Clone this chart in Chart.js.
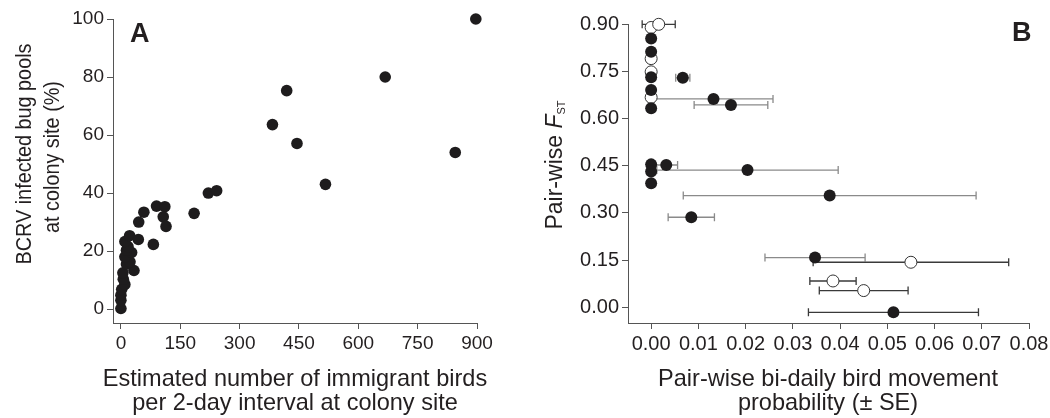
<!DOCTYPE html>
<html>
<head>
<meta charset="utf-8">
<script src="https://cdn.jsdelivr.net/npm/chart.js@4.4.1/dist/chart.umd.min.js"></script>
<style>
html,body{margin:0;padding:0;background:#fff;}
#wrap{position:relative;width:1050px;height:418px;overflow:hidden;background:#fff;}
.panel{position:absolute;top:0;width:525px;height:418px;}
#pa{left:0;} #pb{left:525px;}
</style>
</head>
<body>
<div id="wrap">
  <div class="panel" id="pa"><canvas id="ca"></canvas></div>
  <div class="panel" id="pb"><canvas id="cb"></canvas></div>
</div>
<script>
// ---------------- DATA ----------------
// Panel A: estimated immigrant birds per 2-day interval vs BCRV infected bug pools (%)
const immigrantBirds = [0, 0, 0, 2, 10, 6, 5, 33, 14, 23, 10, 27, 14, 18, 10, 22, 44, 82, 45, 58, 90, 111, 107, 114, 185, 221, 242, 383, 419, 445, 517, 668, 845, 897];
const infectedPools  = [0.2, 3, 4.8, 6.8, 8.5, 10.3, 12.5, 13.3, 15.5, 16.3, 18, 19.5, 20.3, 21.5, 23.3, 25.3, 24, 22.3, 30, 33.4, 35.5, 35.3, 31.8, 28.5, 33, 40, 40.8, 63.6, 75.3, 57.1, 43, 80, 54, 100];
const aXTicks = [0, 150, 300, 450, 600, 750, 900];
const aYTicks = [0, 20, 40, 60, 80, 100];

// Panel B: pair-wise bi-daily movement probability (± SE) vs pair-wise FST
const filledMove = [0, 0, 0, 0.0067, 0, 0.0132, 0.0169, 0, 0, 0.0032, 0.0204, 0, 0, 0.0378, 0.0085, 0.0347, 0.0513];
const filledFst  = [0.854, 0.812, 0.731, 0.729, 0.690, 0.662, 0.643, 0.632, 0.454, 0.452, 0.436, 0.431, 0.394, 0.355, 0.286, 0.158, -0.016];
const filledSE   = [0, 0, 0, 0.0015, 0, 0.0126, 0.0078, 0, 0, 0.0024, 0.0192, 0, 0, 0.031, 0.0049, 0.0106, 0.018];
const openMove = [0, 0.0016, 0, 0, 0, 0.055, 0.0385, 0.045];
const openFst  = [0.889, 0.899, 0.790, 0.748, 0.667, 0.143, 0.0835, 0.053];
const openSE   = [0, 0.0035, 0, 0, 0, 0.0207, 0.0049, 0.0094];
const bXTicks = [0, 0.01, 0.02, 0.03, 0.04, 0.05, 0.06, 0.07, 0.08];
const bYTicks = [0, 0.15, 0.30, 0.45, 0.60, 0.75, 0.90];

// ---------------- STYLE ----------------
const FONT = '"Liberation Sans", Arial, Helvetica, sans-serif';
const TEXT = '#231f20';
const AXIS = '#555';
const DOT = '#1e1c1d';
const GRAY_BAR = '#8a8a8a';
const DARK_BAR = '#3a3a3a';
const filledBarColors = filledSE.map((_, i) => i === filledSE.length - 1 ? DARK_BAR : GRAY_BAR);

const pts = (xs, ys) => xs.map((x, i) => ({x: x, y: ys[i]}));

function axis(tickVals, min, max, size, fmt, fix) {
  return {
    type: 'linear', min: min, max: max,
    afterBuildTicks: s => { s.ticks = tickVals.map(v => ({value: v})); },
    afterFit: s => {
      if (fix.width != null) s.width = fix.width;
      if (fix.height != null) s.height = fix.height;
      s.paddingLeft = 0; s.paddingRight = 0; s.paddingTop = 0; s.paddingBottom = 0;
    },
    grid: {display: true, drawOnChartArea: false, drawTicks: true, tickLength: 6, color: AXIS, lineWidth: 1},
    border: {display: true, color: AXIS, width: 1},
    ticks: {font: {family: FONT, size: size}, color: TEXT, padding: 3, maxRotation: 0, minRotation: 0, autoSkip: false, callback: fmt}
  };
}

const errorBars = {
  id: 'errorBars',
  beforeDatasetsDraw(chart) {
    const ctx = chart.ctx, xs = chart.scales.x, ys = chart.scales.y;
    chart.data.datasets.forEach(ds => {
      if (!ds.se) return;
      ds.data.forEach((p, i) => {
        const e = ds.se[i];
        if (!e) return;
        const x1 = xs.getPixelForValue(p.x - e), x2 = xs.getPixelForValue(p.x + e), y = ys.getPixelForValue(p.y);
        ctx.save();
        ctx.strokeStyle = ds.barColors[i];
        ctx.lineWidth = 1.3;
        ctx.beginPath();
        ctx.moveTo(x1, y); ctx.lineTo(x2, y);
        ctx.moveTo(x1, y - 4); ctx.lineTo(x1, y + 4);
        ctx.moveTo(x2, y - 4); ctx.lineTo(x2, y + 4);
        ctx.stroke();
        ctx.restore();
      });
    });
  }
};

const panelText = {
  id: 'panelText',
  afterDraw(chart, args, opts) {
    const ctx = chart.ctx;
    (opts.items || []).forEach(it => {
      ctx.save();
      ctx.translate(it.x, it.y);
      if (it.rot) ctx.rotate(it.rot);
      ctx.scale(it.sx || 1, 1);
      ctx.fillStyle = TEXT;
      ctx.textBaseline = 'alphabetic';
      ctx.textAlign = 'left';
      const parts = it.parts.map(p => Object.assign({style: '', weight: '', dy: 0}, p));
      let total = 0;
      parts.forEach(p => {
        ctx.font = `${p.style} ${p.weight} ${p.size}px ${FONT}`;
        p.w = ctx.measureText(p.t).width;
        total += p.w;
      });
      let cx = it.align === 'left' ? 0 : -total / 2;
      parts.forEach(p => {
        ctx.font = `${p.style} ${p.weight} ${p.size}px ${FONT}`;
        ctx.fillText(p.t, cx, p.dy);
        cx += p.w;
      });
      ctx.restore();
    });
  }
};

Chart.register(errorBars, panelText);

// ---------------- PANEL A ----------------
new Chart(document.getElementById('ca'), {
  type: 'scatter',
  data: {datasets: [{
    data: pts(immigrantBirds, infectedPools),
    backgroundColor: DOT, borderColor: DOT, borderWidth: 0, pointRadius: 5.8, clip: false
  }]},
  options: {
    responsive: true, maintainAspectRatio: false, animation: false,
    layout: {padding: {left: 0, right: 48, top: 19, bottom: 0}},
    scales: {
      x: axis(aXTicks, -20, 900, 19, v => String(v), {height: 95}),
      y: axis(aYTicks, -4.8, 100, 19, v => String(v), {width: 113})
    },
    plugins: {
      legend: {display: false}, tooltip: {enabled: false},
      panelText: {items: [
        {x: 295, y: 386, sx: 0.98, parts: [{t: 'Estimated number of immigrant birds', size: 24}]},
        {x: 295, y: 410, sx: 0.98, parts: [{t: 'per 2-day interval at colony site', size: 24}]},
        {x: 31, y: 154, rot: -Math.PI / 2, sx: 0.9, parts: [{t: 'BCRV infected bug pools', size: 22}]},
        {x: 59, y: 157, rot: -Math.PI / 2, sx: 0.9, parts: [{t: 'at colony site (%)', size: 22}]},
        {x: 130, y: 42, align: 'left', parts: [{t: 'A', size: 27, weight: 'bold'}]}
      ]}
    }
  }
});

// ---------------- PANEL B ----------------
new Chart(document.getElementById('cb'), {
  type: 'scatter',
  data: {datasets: [
    {
      data: pts(filledMove, filledFst), se: filledSE, barColors: filledBarColors,
      backgroundColor: DOT, borderColor: DOT, borderWidth: 0, pointRadius: 6, clip: false
    },
    {
      data: pts(openMove, openFst), se: openSE, barColors: openSE.map(() => DARK_BAR),
      backgroundColor: '#ffffff', borderColor: '#333', borderWidth: 1, pointRadius: 6, clip: false
    }
  ]},
  options: {
    responsive: true, maintainAspectRatio: false, animation: false,
    layout: {padding: {left: 0, right: 21, top: 24, bottom: 0}},
    scales: {
      x: axis(bXTicks, -0.0049, 0.08, 20, v => v.toFixed(2), {height: 95}),
      y: axis(bYTicks, -0.05, 0.90, 20, v => v.toFixed(2), {width: 103})
    },
    plugins: {
      legend: {display: false}, tooltip: {enabled: false},
      panelText: {items: [
        {x: 303, y: 386, sx: 0.98, parts: [{t: 'Pair-wise bi-daily bird movement', size: 24}]},
        {x: 303, y: 410, sx: 0.98, parts: [{t: 'probability (\u00B1 SE)', size: 24}]},
        {x: 37, y: 165, rot: -Math.PI / 2, parts: [
          {t: 'Pair-wise ', size: 23},
          {t: 'F', size: 23, style: 'italic'},
          {t: 'ST', size: 11, dy: 3}
        ]},
        {x: 487, y: 41, align: 'left', parts: [{t: 'B', size: 27, weight: 'bold'}]}
      ]}
    }
  }
});
</script>
</body>
</html>
